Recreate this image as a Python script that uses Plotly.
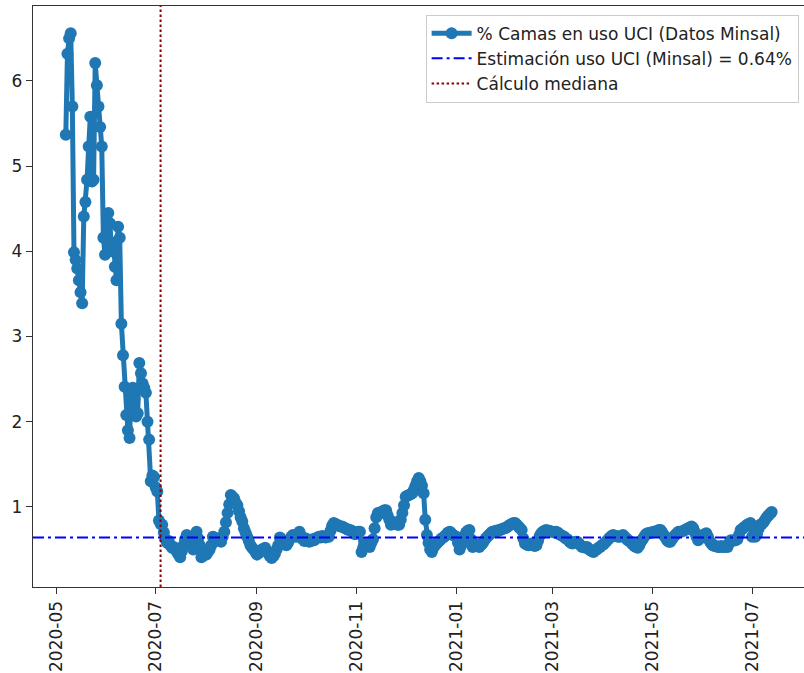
import plotly.graph_objects as go
import pandas as pd

start_date = "2020-05-07"
uci_pct = [
    5.37, 6.32, 6.50, 6.56, 5.70, 3.99, 3.90, 3.80, 3.66, 3.52,
    3.39, 4.41, 4.58, 4.84, 5.23, 5.58, 4.82, 4.84, 6.21, 5.95,
    5.70, 5.46, 5.23, 4.16, 3.96, 4.20, 4.45, 4.33, 4.00, 4.10,
    3.82, 3.66, 4.29, 4.16, 3.15, 2.78, 2.41, 2.08, 1.90, 1.81,
    2.34, 2.40, 2.26, 2.06, 2.10, 2.69, 2.57, 2.45, 2.40, 2.34,
    2.00, 1.79, 1.30, 1.37, 1.35, 1.23, 1.18, 0.84, 0.80, 0.79,
    0.70, 0.62, 0.58, 0.60, 0.55, 0.52, 0.53, 0.50, 0.47, 0.44,
    0.41, 0.48, 0.55, 0.62, 0.67, 0.63, 0.60, 0.55, 0.50, 0.62,
    0.71, 0.63, 0.55, 0.41, 0.43, 0.45, 0.44, 0.47, 0.50, 0.55,
    0.65, 0.64, 0.63, 0.62, 0.60, 0.59, 0.65, 0.71, 0.82, 0.93,
    1.03, 1.14, 1.12, 1.10, 1.05, 1.02, 0.95, 0.88, 0.83, 0.75,
    0.70, 0.65, 0.60, 0.55, 0.52, 0.50, 0.47, 0.44, 0.46, 0.48,
    0.50, 0.51, 0.52, 0.48, 0.45, 0.42, 0.40, 0.42, 0.45, 0.50,
    0.55, 0.64, 0.61, 0.58, 0.56, 0.55, 0.58, 0.62, 0.65, 0.67,
    0.66, 0.65, 0.68, 0.71, 0.66, 0.62, 0.60, 0.63, 0.61, 0.59,
    0.60, 0.62, 0.61, 0.63, 0.64, 0.65, 0.64, 0.66, 0.65, 0.64,
    0.66, 0.65, 0.72, 0.78, 0.81, 0.80, 0.79, 0.78, 0.77, 0.77,
    0.76, 0.75, 0.74, 0.73, 0.73, 0.72, 0.70, 0.68, 0.69, 0.71,
    0.71, 0.47, 0.52, 0.56, 0.58, 0.55, 0.53, 0.58, 0.62, 0.75,
    0.88, 0.93, 0.92, 0.94, 0.95, 0.96, 0.96, 0.90, 0.85, 0.79,
    0.80, 0.82, 0.80, 0.79, 0.79, 0.85, 0.93, 1.02, 1.12, 1.13,
    1.14, 1.15, 1.16, 1.20, 1.25, 1.30, 1.34, 1.30, 1.25, 1.16,
    0.85, 0.67, 0.58, 0.50, 0.47, 0.52, 0.55, 0.57, 0.59, 0.61,
    0.63, 0.64, 0.66, 0.68, 0.70, 0.71, 0.69, 0.67, 0.66, 0.65,
    0.58, 0.50, 0.55, 0.60, 0.65, 0.70, 0.72, 0.73, 0.62, 0.53,
    0.55, 0.56, 0.55, 0.53, 0.55, 0.57, 0.60, 0.63, 0.65, 0.67,
    0.69, 0.71, 0.70, 0.72, 0.71, 0.73, 0.73, 0.74, 0.75, 0.75,
    0.76, 0.78, 0.79, 0.80, 0.81, 0.81, 0.79, 0.77, 0.75, 0.73,
    0.63, 0.57, 0.56, 0.55, 0.56, 0.57, 0.55, 0.54, 0.55, 0.60,
    0.66, 0.69, 0.71, 0.72, 0.73, 0.72, 0.72, 0.71, 0.71, 0.70,
    0.71, 0.70, 0.68, 0.67, 0.66, 0.65, 0.63, 0.62, 0.60, 0.58,
    0.57, 0.58, 0.59, 0.59, 0.57, 0.55, 0.53, 0.53, 0.52, 0.53,
    0.51, 0.49, 0.48, 0.47, 0.49, 0.50, 0.52, 0.53, 0.55, 0.56,
    0.58, 0.60, 0.62, 0.64, 0.66, 0.67, 0.66, 0.66, 0.65, 0.65,
    0.66, 0.67, 0.65, 0.63, 0.61, 0.60, 0.58, 0.56, 0.54, 0.53,
    0.52, 0.55, 0.59, 0.62, 0.65, 0.68, 0.69, 0.69, 0.70, 0.70,
    0.71, 0.71, 0.72, 0.73, 0.73, 0.70, 0.67, 0.64, 0.61, 0.59,
    0.59, 0.62, 0.65, 0.67, 0.69, 0.71, 0.71, 0.71, 0.72, 0.73,
    0.74, 0.75, 0.76, 0.77, 0.75, 0.70, 0.65, 0.61, 0.63, 0.65,
    0.67, 0.68, 0.69, 0.65, 0.60, 0.57, 0.55, 0.54, 0.54, 0.53,
    0.53, 0.54, 0.53, 0.53, 0.54, 0.53, 0.58, 0.61, 0.60, 0.61,
    0.61, 0.62, 0.67, 0.73, 0.74, 0.76, 0.77, 0.79, 0.80, 0.81,
    0.65, 0.66, 0.65, 0.68, 0.74, 0.79, 0.80, 0.82, 0.85, 0.88,
    0.90, 0.92, 0.94,
]
estimacion_uci = 0.64
mediana_date = "2020-07-04"

tick_dates = ["2020-05-01", "2020-07-01", "2020-09-01", "2020-11-01",
              "2021-01-01", "2021-03-01", "2021-05-01", "2021-07-01"]
tick_labels = ["2020-05", "2020-07", "2020-09", "2020-11",
               "2021-01", "2021-03", "2021-05", "2021-07"]
y_ticks = [1, 2, 3, 4, 5, 6]

x_range = ["2020-04-16 22:00", "2021-08-01 19:00"]
y_range = [0.06, 6.88]

dates = pd.date_range(start_date, periods=len(uci_pct), freq="D")

fig = go.Figure()
fig.add_trace(go.Scatter(
    x=dates, y=uci_pct, mode="lines+markers",
    name="% Camas en uso UCI (Datos Minsal)",
    line=dict(color="#1f77b4", width=5),
    marker=dict(color="#1f77b4", size=12),
))
fig.add_trace(go.Scatter(
    x=x_range, y=[estimacion_uci, estimacion_uci], mode="lines",
    name="Estimación uso UCI (Minsal) = 0.64%",
    line=dict(color="#0000ff", width=2, dash="11px,4px,3px,4px"),
))
fig.add_trace(go.Scatter(
    x=[mediana_date, mediana_date], y=y_range, mode="lines",
    name="Cálculo mediana",
    line=dict(color="#8b0000", width=2, dash="2.5px,2.5px"),
))

fig.update_layout(
    width=804, height=673,
    margin=dict(l=33, r=0, t=6, b=86),
    paper_bgcolor="white", plot_bgcolor="white",
    font=dict(family="DejaVu Sans", size=17, color="#222"),
    showlegend=True,
    legend=dict(
        x=0.993, y=0.985, xanchor="right", yanchor="top",
        bgcolor="rgba(255,255,255,0.9)", bordercolor="#cccccc", borderwidth=1,
        font=dict(size=17, color="#222"),
        tracegroupgap=0, itemwidth=40,
    ),
)
fig.update_xaxes(
    range=x_range, tickvals=tick_dates, ticktext=tick_labels, automargin=False,
    tickangle=-90, ticks="outside", ticklen=6, tickwidth=1.3, tickcolor="#333",
    showline=True, linecolor="#333", linewidth=1.3, mirror=True,
    showgrid=False, zeroline=False, tickfont=dict(size=17, color="#222"),
)
fig.update_yaxes(
    range=y_range, tickvals=y_ticks, automargin=False,
    ticks="outside", ticklen=6, tickwidth=1.3, tickcolor="#333",
    showline=True, linecolor="#333", linewidth=1.3, mirror=False,
    showgrid=False, zeroline=False, tickfont=dict(size=17, color="#222"),
)

fig.write_html(
    "out.html",
    config={"displayModeBar": False},
    post_script="document.body.style.margin='0';document.body.style.overflow='hidden';",
)
